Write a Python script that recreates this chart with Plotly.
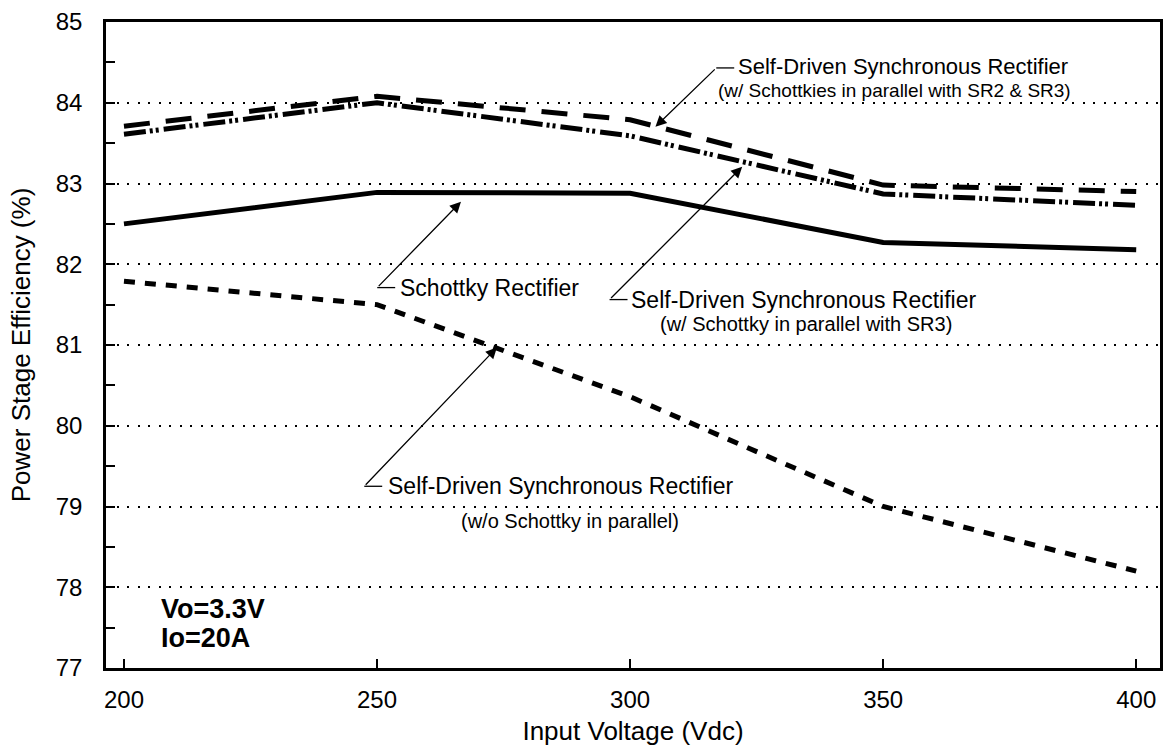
import plotly.graph_objects as go

voltage = [200, 250, 300, 350, 400]
sr_schottkies_sr2_sr3 = [83.71, 84.08, 83.79, 82.98, 82.90]
sr_schottky_sr3 = [83.61, 84.00, 83.59, 82.87, 82.73]
schottky_rectifier = [82.50, 82.89, 82.88, 82.27, 82.18]
sr_no_schottky = [81.79, 81.50, 80.36, 79.00, 78.20]

x_ticks = [200, 250, 300, 350, 400]
y_ticks = [77, 78, 79, 80, 81, 82, 83, 84, 85]

FONT = "Liberation Sans, Arial, Helvetica, sans-serif"

# layout geometry (pixels)
W, H = 1170, 749
ML, MR, MT, MB = 106, 7, 22, 80
XR = [196.45, 404.7]
YR = [77, 85]

def px2x(px):
    return XR[0] + (px - ML) * (XR[1] - XR[0]) / (W - ML - MR)

def py2y(py):
    return YR[1] - (py - MT) * (YR[1] - YR[0]) / (H - MT - MB)

fig = go.Figure()
fig.add_trace(go.Scatter(x=voltage, y=sr_schottkies_sr2_sr3, mode="lines",
                         line=dict(color="black", width=5, dash="26px,16px")))
fig.add_trace(go.Scatter(x=voltage, y=sr_schottky_sr3, mode="lines",
                         line=dict(color="black", width=5, dash="22px,4px,3px,3px,3px,5px")))
fig.add_trace(go.Scatter(x=voltage, y=schottky_rectifier, mode="lines",
                         line=dict(color="black", width=5)))
fig.add_trace(go.Scatter(x=voltage, y=sr_no_schottky, mode="lines",
                         line=dict(color="black", width=5, dash="11px,10px")))

annots = []
shapes = []

def callout(corner_px, tip_px, text_lines):
    cx, cy = corner_px
    tx, ty = tip_px
    annots.append(dict(x=px2x(tx), y=py2y(ty), ax=px2x(cx), ay=py2y(cy),
                       xref="x", yref="y", axref="x", ayref="y", text="",
                       showarrow=True, arrowhead=2, arrowsize=1.7, arrowwidth=1.3,
                       arrowcolor="black"))
    shapes.append(dict(type="line", xref="x", yref="y", x0=px2x(cx), y0=py2y(cy),
                       x1=px2x(cx + 18), y1=py2y(cy), line=dict(color="black", width=1.3)))
    for txt, xpx, ypx, size in text_lines:
        annots.append(dict(x=px2x(xpx), y=py2y(ypx), xref="x", yref="y", text=txt,
                           showarrow=False, xanchor="left", yanchor="middle",
                           font=dict(size=size, family=FONT, color="black")))

callout((718, 68), (657, 127),
        [("Self-Driven Synchronous Rectifier", 738, 67, 22),
         ("(w/ Schottkies in parallel with SR2 &amp; SR3)", 718, 91, 19)])
callout((378, 288), (462, 202),
        [("Schottky Rectifier", 399, 288, 23)])
callout((611, 300), (744, 167),
        [("Self-Driven Synchronous Rectifier", 630, 300, 23),
         ("(w/ Schottky in parallel with SR3)", 660, 324, 20)])
callout((365, 487), (498, 348),
        [("Self-Driven Synchronous Rectifier", 387, 487, 23),
         ("(w/o Schottky in parallel)", 460, 522, 20)])

annots.append(dict(x=px2x(159), y=py2y(610), xref="x", yref="y", text="<b>Vo=3.3V</b>",
                   showarrow=False, xanchor="left", yanchor="middle",
                   font=dict(size=27, family=FONT, color="black")))
annots.append(dict(x=px2x(159), y=py2y(639), xref="x", yref="y", text="<b>Io=20A</b>",
                   showarrow=False, xanchor="left", yanchor="middle",
                   font=dict(size=27, family=FONT, color="black")))

# y-axis title as rotated paper annotation
annots.append(dict(x=(21 - ML) / (W - ML - MR), y=0.5, xref="paper", yref="paper",
                   text="Power Stage Efficiency (%)", textangle=-90, showarrow=False,
                   xanchor="center", yanchor="middle",
                   font=dict(size=26, family=FONT, color="black")))

fig.update_layout(
    width=W, height=H,
    margin=dict(l=ML, r=MR, t=MT, b=MB),
    paper_bgcolor="white", plot_bgcolor="white",
    showlegend=False,
    font=dict(family=FONT, size=24, color="black"),
    annotations=annots, shapes=shapes,
    xaxis=dict(range=XR, tickvals=x_ticks, ticks="inside", ticklen=9, tickwidth=1.5,
               tickcolor="black", showline=True, linecolor="black", linewidth=2.5,
               mirror=True, showgrid=False, zeroline=False,
               ticklabelstandoff=8, tickfont=dict(size=24),
               title=dict(text="Input Voltage (Vdc)", font=dict(size=26), standoff=11)),
    yaxis=dict(range=YR, tickvals=y_ticks, ticks="inside", ticklen=9, tickwidth=1.5,
               tickcolor="black", showline=True, linecolor="black", linewidth=2.5,
               mirror=True, showgrid=True, gridcolor="black", gridwidth=1.6,
               griddash="2px,8.5px", zeroline=False, ticklabelstandoff=16,
               tickfont=dict(size=24),
               minor=dict(ticks="inside", dtick=0.5, ticklen=9, tickwidth=1.5,
                          tickcolor="black", showgrid=False)),
)

fig.write_html("out.html")
